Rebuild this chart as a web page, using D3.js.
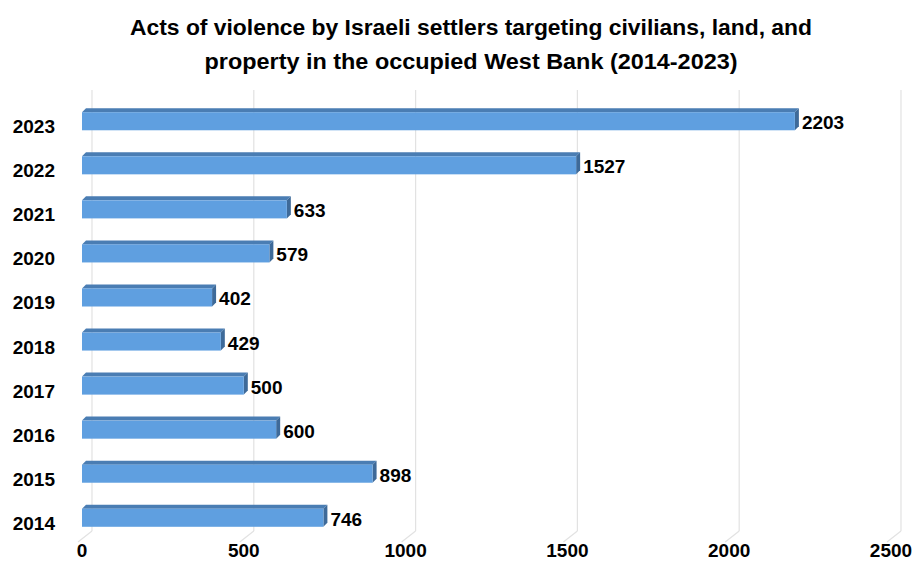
<!DOCTYPE html>
<html><head><meta charset="utf-8">
<script src="https://cdn.jsdelivr.net/npm/d3@7"></script>
<style>body{margin:0;background:#fff}svg{display:block}</style>
</head><body><svg id="c" width="912" height="579"></svg>
<script>
const years = ["2023","2022","2021","2020","2019","2018","2017","2016","2015","2014"];
const values = [2203,1527,633,579,402,429,500,600,898,746];
const ticks = [0,500,1000,1500,2000,2500];
const titleLines = ["Acts of violence by Israeli settlers targeting civilians, land, and","property in the occupied West Bank (2014-2023)"];

const svg = d3.select("#c");
const font = "'Liberation Sans', Arial, sans-serif";
const x = d3.scaleLinear().domain([0,2500]).range([82,891]);
const y = d3.scaleBand().domain(years).range([99,540]).paddingInner(0.59).paddingOuter(0.3);
const dx = 10, floorY = 531, topY = 90, fdx = -14, fdy = 11;
const bdx = 4, bdy = 4;

// gridlines (back wall + floor)
const g = svg.append("g");
ticks.forEach(t => {
  const bx = x(t) + dx;
  g.append("line").attr("x1",bx).attr("x2",bx).attr("y1",topY).attr("y2",floorY)
   .attr("stroke","#e2e2e2").attr("stroke-width",1.2);
  g.append("line").attr("x1",bx).attr("x2",bx+fdx).attr("y1",floorY).attr("y2",floorY+fdy)
   .attr("stroke","#e2e2e2").attr("stroke-width",1.2);
});

// axis labels
svg.append("g").selectAll("text").data(ticks).join("text")
  .attr("x",d=>x(d)).attr("y",557).attr("text-anchor","middle")
  .attr("font-family",font).attr("font-weight","bold").attr("font-size",19).attr("fill","#000")
  .text(d=>d);

// bars
const bars = svg.append("g").selectAll("g").data(years).join("g");
bars.each(function(yr,i){
  const gg = d3.select(this);
  const x0 = x(0), x1 = x(values[i]), y0 = y(yr), h = y.bandwidth();
  gg.append("polygon").attr("points",[[x0,y0],[x0+bdx,y0-bdy],[x1+bdx,y0-bdy],[x1,y0]].join(" "))
    .attr("fill","#4a7db3");
  gg.append("polygon").attr("points",[[x1,y0],[x1+bdx,y0-bdy],[x1+bdx,y0+h-bdy],[x1,y0+h]].join(" "))
    .attr("fill","#3e6a99");
  gg.append("rect").attr("x",x0).attr("y",y0).attr("width",x1-x0).attr("height",h)
    .attr("fill","#5f9fe0");
  gg.append("text").attr("x",x1+bdx+3).attr("y",y0+h/2+8)
    .attr("font-family",font).attr("font-weight","bold").attr("font-size",19).attr("fill","#000")
    .text(values[i]);
  gg.append("text").attr("x",55).attr("y",y0+h/2+12).attr("text-anchor","end")
    .attr("font-family",font).attr("font-weight","bold").attr("font-size",19).attr("fill","#000")
    .text(yr);
});

// title
const titleWidths = [682, 533];
svg.append("g").selectAll("text").data(titleLines).join("text")
  .attr("x",471).attr("y",(d,i)=>35+i*34).attr("text-anchor","middle")
  .attr("font-family",font).attr("font-weight","bold").attr("font-size",22).attr("fill","#000")
  .attr("textLength",(d,i)=>titleWidths[i]).attr("lengthAdjust","spacingAndGlyphs")
  .text(d=>d);
</script></body></html>
